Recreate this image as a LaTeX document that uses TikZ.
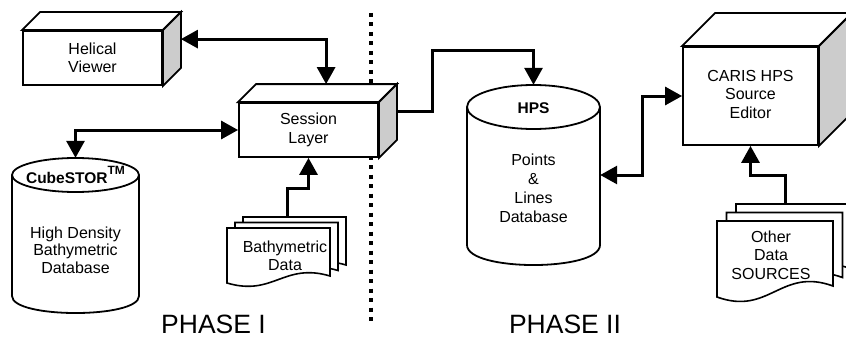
\documentclass[tikz,border=0pt]{standalone}
\usepackage{fontspec}
\setmainfont{Liberation Sans}
\usetikzlibrary{arrows.meta,calc}
\newcommand{\dgboxfont}{\fontsize{16}{18.5}\selectfont}
\newcommand{\dgtitlefont}{\fontsize{15.5}{18}\selectfont\bfseries}
\newcommand{\dgphasefont}{\fontsize{26.5}{30}\selectfont}
% 3D box: name, cx, cy, w, h, depth, text
\newcommand{\dgbox}[7]{%
  \node[frontface, minimum width=#4pt, minimum height=#5pt] (#1) at (#2,#3) {#7};
  \draw[topface] (#1.north west) -- ([shift={(#6,-#6)}]#1.north west)
     -- ([shift={(#6,-#6)}]#1.north east) -- (#1.north east) -- cycle;
  \draw[sideface] (#1.north east) -- ([shift={(#6,-#6)}]#1.north east)
     -- ([shift={(#6,-#6)}]#1.south east) -- (#1.south east) -- cycle;
}
% document sheet: name, x0, y0, w, h, rise
\newcommand{\dgdoc}[6]{%
  \node[docbox, minimum width=#4pt, minimum height=#5pt, anchor=north west] (#1) at (#2,#3) {};
  \draw[docline, shift={(#2,#3)}] (0,0) -- (#4,0) -- (#4,#5-#6)
     .. controls (0.55*#4,0.75*#5-#6) and (0.45*#4,1.25*#5) .. (0,#5) -- cycle;
}
\tikzset{
  edge3d/.style={draw=black, line width=1.8pt, line join=miter},
  topface/.style={edge3d, fill=white},
  sideface/.style={edge3d, fill=black!20},
  frontface/.style={edge3d, fill=white, rectangle, inner sep=0pt, align=center, font=\dgboxfont},
  docbox/.style={rectangle, inner sep=0pt, draw=none},
  docline/.style={draw=black, line width=1.6pt, fill=white, line join=miter},
  cyl/.style={draw=black, line width=1.8pt, fill=white},
  cylarea/.style={rectangle, inner sep=0pt, draw=none},
  label/.style={align=center, font=\dgboxfont, inner sep=0pt},
  title/.style={align=center, font=\dgtitlefont, inner sep=0pt},
  phase/.style={font=\dgphasefont, anchor=base, inner sep=0pt},
  conn/.style={draw=black, line width=3pt, line join=miter},
  divider/.style={draw=black, line width=4pt, dash pattern=on 4pt off 5.5pt},
  >={Triangle[length=17pt,width=18pt]}
}
\begin{document}
\begin{tikzpicture}[x=1pt,y=-1pt]
\useasboundingbox[fill=white] (0,0) rectangle (846,337);

% phase divider
\coordinate (divtop) at (371,13);
\coordinate (divbot) at (371,323);
\draw[divider] (divtop) -- (divbot);

% 3D boxes
\dgbox{hv}{92.5}{58}{139}{54}{18}{Helical\\Viewer}
\dgbox{sl}{308.5}{130}{139}{54}{18}{Session\\Layer}
\dgbox{cr}{750.5}{96}{135}{98}{33}{}
\node[label] (crtext) at (750.5,94) {CARIS HPS\\Source\\Editor};

% CubeSTOR cylinder
\node[cylarea, minimum width=127pt, minimum height=155pt] (cube) at (75.5,235.5) {};
\draw[cyl] (12,175) -- (12,296) .. controls (12,318.7) and (139,318.7) .. (139,296) -- (139,175);
\draw[cyl] (75.5,175) ellipse [x radius=63.5, y radius=17];
\node[title] (cubetitle) at (75.5,175) {CubeSTOR\raisebox{8.5pt}{\fontsize{12}{12}\selectfont TM}};
\node[label, font=\fontsize{16}{17.5}\selectfont] (cubetext) at (75.5,250) {High Density\\Bathymetric\\Database};

% HPS cylinder
\node[cylarea, minimum width=133pt, minimum height=180pt] (hps) at (533.5,175) {};
\draw[cyl] (467,107) -- (467,245) .. controls (467,271.7) and (600,271.7) .. (600,245) -- (600,107);
\draw[cyl] (533.5,107) ellipse [x radius=66.5, y radius=22];
\node[title] (hpstitle) at (533.5,108) {HPS};
\node[label, font=\fontsize{16}{19}\selectfont] (hpstext) at (533.5,188) {Points\\\&\\Lines\\Database};

% document stacks
\dgdoc{bd3}{243}{217}{103}{55}{7}
\dgdoc{bd2}{235}{222.5}{103}{55}{7}
\dgdoc{bd1}{227}{228}{103}{55}{7}
\node[label] (bdtext) at (285,256) {Bathymetric\\Data};

\dgdoc{od3}{736}{204}{116}{76}{11}
\dgdoc{od2}{726.5}{212.5}{116}{76}{11}
\dgdoc{od1}{717}{221}{116}{76}{11}
\node[label] (odtext) at (771,255) {Other\\Data\\SOURCES};

% connectors
\draw[conn, <->] ($(hv.north east)+(18,9)$) -| ($(sl.north west)+(88,-18)$);
\draw[conn, <->] (sl.west) -| (cube.north);
\draw[conn, ->] ($(sl.north east)+(18,9)$) -- ++(36,0) |- ($(hps.north)+(0,-34)$) -- (hps.north);
\draw[conn, <->] (hps.east) -- ++(42,0) |- (cr.west);
\draw[conn, ->] ($(bd3.north west)+(44,0)$) -- ++(0,-29) -| (sl.south);
\draw[conn, ->] ($(od3.north west)+(49,0)$) -- ++(0,-29) -| (cr.south);

% phase labels
\node[phase] (ph1) at (213.5,333) {PHASE I};
\node[phase] (ph2) at (565,333) {PHASE II};
\end{tikzpicture}
\end{document}
